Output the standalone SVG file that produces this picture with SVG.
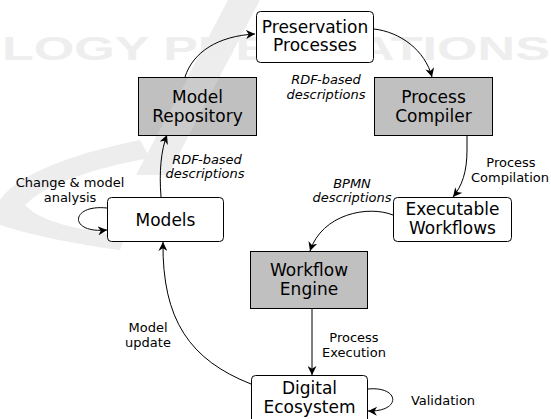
<svg xmlns="http://www.w3.org/2000/svg" width="551" height="419" viewBox="0 0 551 419">
<defs>
<marker id="arr" viewBox="0 0 10 10" refX="10" refY="5" markerWidth="9" markerHeight="9" markerUnits="userSpaceOnUse" orient="auto">
<path d="M0,0 L10,5 L0,10 L3,5 z" fill="#000"/>
</marker>
<style>
.wm{fill:#ededed;stroke:none}
.wmt{fill:#eeeeee;font-family:"Liberation Sans",Arial,sans-serif;font-size:34px;font-weight:bold}
.nw{fill:#fff;stroke:#000;stroke-width:1}
.ng{fill:#c0c0c0;stroke:#000;stroke-width:1}
.nt{font-family:"DejaVu Sans",sans-serif;font-size:17px;fill:#000;text-anchor:middle}
.lt{font-family:"DejaVu Sans",sans-serif;font-size:13px;fill:#000;text-anchor:middle}
.li{font-family:"DejaVu Sans",sans-serif;font-size:13px;font-style:italic;fill:#000;text-anchor:middle}
.c{fill:none;stroke:#000;stroke-width:1;marker-end:url(#arr)}
</style>
</defs>
<g id="watermark">
<path class="wm" d="M228,0 L260,0 L168,175 L136,175 z"/>
<path class="wm" d="M140,140 C90,150 20,170 0,200 L0,225 C30,235 80,245 120,250 L125,236 C80,230 40,222 25,205 C50,180 110,165 150,158 z"/>
<text class="wmt" x="2" y="60" textLength="548" lengthAdjust="spacingAndGlyphs">LOGY  PUBLICATIONS</text>
</g>
<g id="connectors">
<path class="c" d="M185,77 C193,52 218,36 255,34"/>
<path class="c" d="M374,29 C400,32 425,50 432,77"/>
<path class="c" d="M467,136 L467,150 C467,172 462,186 453,197"/>
<path class="c" d="M393,215 C368,205 322,214 310,251"/>
<path class="c" d="M312,309 L312,375"/>
<path class="c" d="M251,384 C190,360 162,320 163,242"/>
<path class="c" d="M161,197 C159,172 161,150 167,135"/>
<path class="c" d="M107,208 C70,204 68,234 107,230"/>
<path class="c" d="M368,389 C400,386 402,412 368,411"/>
</g>
<g id="preservation">
<rect class="nw" x="256.5" y="11.5" width="117" height="51" rx="4"/>
<text class="nt" x="315" y="33">Preservation</text>
<text class="nt" x="315" y="51">Processes</text>
</g>
<g id="repository">
<rect class="ng" x="138.5" y="77.5" width="118" height="58"/>
<path d="M188,78 L219,78 L189,135 L157,135 z" fill="#fff" fill-opacity="0.18"/>
<text class="nt" x="197.5" y="103">Model</text>
<text class="nt" x="197.5" y="122">Repository</text>
</g>
<g id="compiler">
<rect class="ng" x="374.5" y="77.5" width="118" height="58"/>
<text class="nt" x="433.5" y="103">Process</text>
<text class="nt" x="433.5" y="122">Compiler</text>
</g>
<g id="models">
<rect class="nw" x="107.5" y="197.5" width="116" height="44" rx="4"/>
<text class="nt" x="165.5" y="226">Models</text>
</g>
<g id="executable">
<rect class="nw" x="393.5" y="197.5" width="118" height="44" rx="4"/>
<text class="nt" x="452.5" y="215">Executable</text>
<text class="nt" x="452.5" y="234">Workflows</text>
</g>
<g id="engine">
<rect class="ng" x="250.5" y="251.5" width="117" height="57"/>
<text class="nt" x="309" y="276">Workflow</text>
<text class="nt" x="309" y="295">Engine</text>
</g>
<g id="ecosystem">
<rect class="nw" x="251.5" y="375.5" width="116" height="52" rx="4"/>
<text class="nt" x="309.5" y="394">Digital</text>
<text class="nt" x="309.5" y="413">Ecosystem</text>
</g>
<g id="labels">
<text class="li" x="326" y="84">RDF-based</text>
<text class="li" x="326" y="99">descriptions</text>
<text class="li" x="207" y="164">RDF-based</text>
<text class="li" x="205" y="178">descriptions</text>
<text class="lt" x="70" y="187">Change &amp; model</text>
<text class="lt" x="70" y="202">analysis</text>
<text class="lt" x="511" y="167">Process</text>
<text class="lt" x="510" y="182">Compilation</text>
<text class="li" x="352" y="188">BPMN</text>
<text class="li" x="352" y="202">descriptions</text>
<text class="lt" x="148" y="332">Model</text>
<text class="lt" x="148" y="347">update</text>
<text class="lt" x="354" y="342">Process</text>
<text class="lt" x="354" y="357">Execution</text>
<text class="lt" x="443" y="405">Validation</text>
</g>
</svg>
